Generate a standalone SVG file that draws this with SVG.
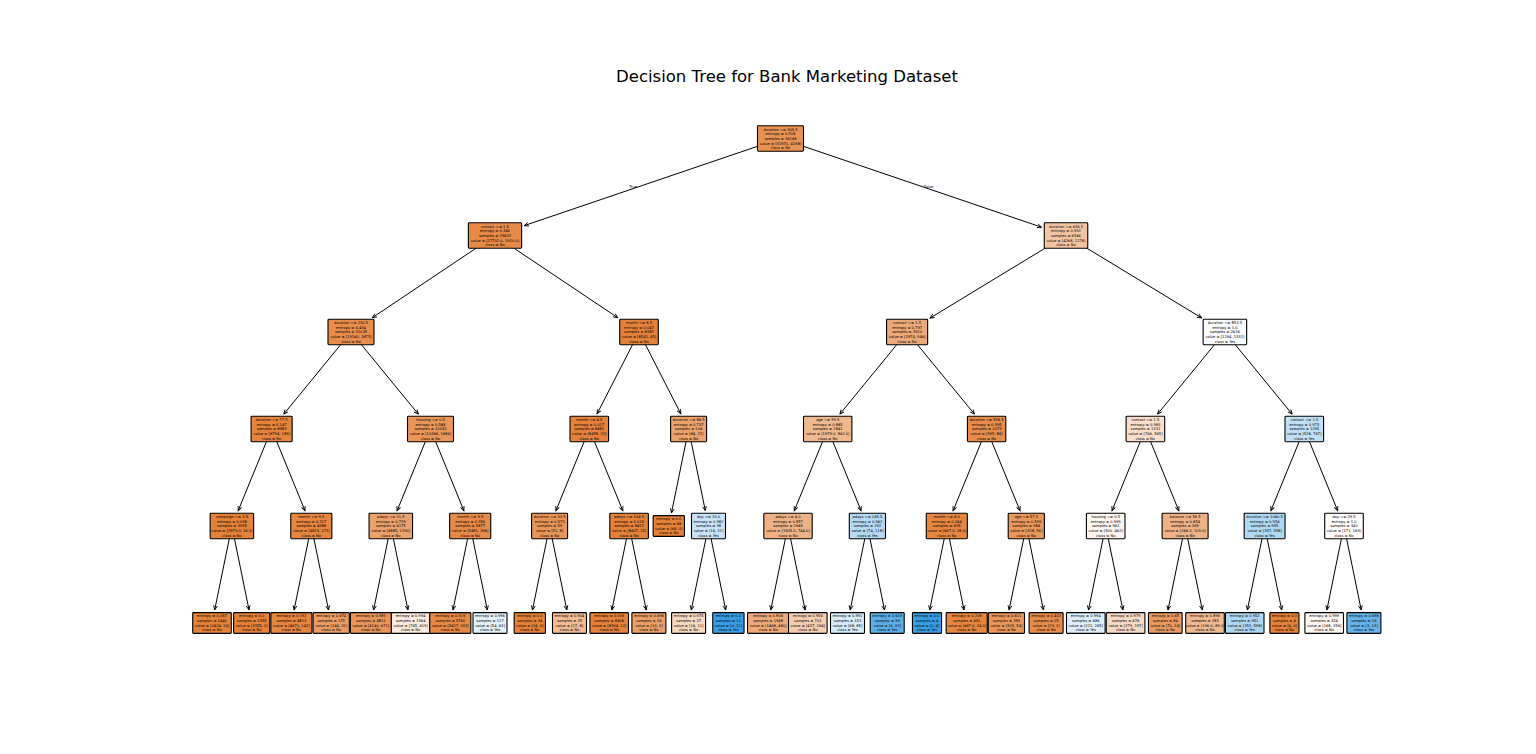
<svg xmlns="http://www.w3.org/2000/svg" width="1536" height="754" viewBox="0 0 1536 754">
<style>
.t{font-family:"DejaVu Sans","Liberation Sans",sans-serif;font-size:3.65px;text-anchor:middle;fill:#000;text-rendering:geometricPrecision}
.b{stroke:#000;stroke-width:1.1}
.e{stroke:#000;stroke-width:1;fill:none;marker-end:url(#ah)}
.title{font-family:"DejaVu Sans","Liberation Sans",sans-serif;font-size:16.5px;text-anchor:middle;fill:#000}
.lbl{font-family:"DejaVu Sans","Liberation Sans",sans-serif;font-size:3.65px;fill:#000;text-rendering:geometricPrecision}
</style>
<defs>
<marker id="ah" markerUnits="userSpaceOnUse" markerWidth="7" markerHeight="6" viewBox="0 0 7 6" refX="5.5" refY="3" orient="auto"><path d="M1.2,1.1 L5.5,3 L1.2,4.9" fill="none" stroke="#000" stroke-width="0.9"/></marker>
</defs>
<rect width="1536" height="754" fill="#fff"/>
<text class="title" x="787" y="81.5">Decision Tree for Bank Marketing Dataset</text>
<g id="edges">
<path class="e" d="M780.5 138.5 L524.3 225.6"/>
<path class="e" d="M780.5 138.5 L1041.6 227.2"/>
<path class="e" d="M495 235.5 L372.3 317.7"/>
<path class="e" d="M495 235.5 L617.7 317.7"/>
<path class="e" d="M1066 235.5 L930 318.1"/>
<path class="e" d="M1066 235.5 L1201.6 317.9"/>
<path class="e" d="M351 332 L283.8 414.1"/>
<path class="e" d="M351 332 L418.3 414.1"/>
<path class="e" d="M639 332 L597.1 413.8"/>
<path class="e" d="M639 332 L680.8 413.8"/>
<path class="e" d="M907.1 332 L839.9 414.1"/>
<path class="e" d="M907.1 332 L974.4 414.1"/>
<path class="e" d="M1224.9 332 L1157.6 414.1"/>
<path class="e" d="M1224.9 332 L1292.1 414.1"/>
<path class="e" d="M271.6 429 L238.2 510.7"/>
<path class="e" d="M271.6 429 L305 510.7"/>
<path class="e" d="M430.5 429 L397.1 510.7"/>
<path class="e" d="M430.5 429 L463.9 510.7"/>
<path class="e" d="M589.3 429 L555.9 510.7"/>
<path class="e" d="M589.3 429 L622.8 510.7"/>
<path class="e" d="M688.6 429 L671.5 512.9"/>
<path class="e" d="M688.6 429 L705.3 510.6"/>
<path class="e" d="M827.7 429 L794.3 510.7"/>
<path class="e" d="M827.7 429 L861.1 510.7"/>
<path class="e" d="M986.6 429 L953.1 510.7"/>
<path class="e" d="M986.6 429 L1020 510.7"/>
<path class="e" d="M1145.4 429 L1112 510.7"/>
<path class="e" d="M1145.4 429 L1178.8 510.7"/>
<path class="e" d="M1304.3 429 L1270.9 510.7"/>
<path class="e" d="M1304.3 429 L1337.7 510.7"/>
<path class="e" d="M231.9 526 L214.7 609.9"/>
<path class="e" d="M231.9 526 L249 609.9"/>
<path class="e" d="M311.3 526 L294.1 609.9"/>
<path class="e" d="M311.3 526 L328.5 609.9"/>
<path class="e" d="M390.8 526 L373.6 609.9"/>
<path class="e" d="M390.8 526 L407.9 609.9"/>
<path class="e" d="M470.2 526 L453 609.9"/>
<path class="e" d="M470.2 526 L487.3 609.9"/>
<path class="e" d="M549.6 526 L532.5 609.9"/>
<path class="e" d="M549.6 526 L566.8 609.9"/>
<path class="e" d="M629.1 526 L611.9 609.9"/>
<path class="e" d="M629.1 526 L646.2 609.9"/>
<path class="e" d="M708.5 526 L691.3 609.9"/>
<path class="e" d="M708.5 526 L725.7 609.9"/>
<path class="e" d="M788 526 L770.8 609.9"/>
<path class="e" d="M788 526 L805.1 609.9"/>
<path class="e" d="M867.4 526 L850.2 609.9"/>
<path class="e" d="M867.4 526 L884.5 609.9"/>
<path class="e" d="M946.8 526 L929.7 609.9"/>
<path class="e" d="M946.8 526 L964 609.9"/>
<path class="e" d="M1026.3 526 L1009.1 609.9"/>
<path class="e" d="M1026.3 526 L1043.4 609.9"/>
<path class="e" d="M1105.7 526 L1088.5 609.9"/>
<path class="e" d="M1105.7 526 L1122.9 609.9"/>
<path class="e" d="M1185.1 526 L1168 609.9"/>
<path class="e" d="M1185.1 526 L1202.3 609.9"/>
<path class="e" d="M1264.6 526 L1247.4 609.9"/>
<path class="e" d="M1264.6 526 L1281.7 609.9"/>
<path class="e" d="M1344 526 L1326.9 609.9"/>
<path class="e" d="M1344 526 L1361.2 609.9"/>
<text class="lbl" x="637" y="188.3" text-anchor="end">True</text>
<text class="lbl" x="924" y="188.3">False</text>
</g>
<g id="n0"><rect class="b" x="757.5" y="125.8" width="46" height="25.4" rx="0.9" fill="#e89253"/><text class="t" x="780.5" y="130.66"><tspan x="780.5">duration &lt;= 309.5</tspan><tspan x="780.5" dy="4.62">entropy = 0.518</tspan><tspan x="780.5" dy="4.62">samples = 36168</tspan><tspan x="780.5" dy="4.62">value = [31970, 4198]</tspan><tspan x="780.5" dy="4.62">class = No</tspan></text></g>
<g id="n1"><rect class="b" x="468.35" y="222.8" width="53.3" height="25.4" rx="0.9" fill="#e78a47"/><text class="t" x="495" y="227.66"><tspan x="495">contact &lt;= 1.5</tspan><tspan x="495" dy="4.62">entropy = 0.346</tspan><tspan x="495" dy="4.62">samples = 29622</tspan><tspan x="495" dy="4.62">value = [27702.0, 1920.0]</tspan><tspan x="495" dy="4.62">class = No</tspan></text></g>
<g id="n2"><rect class="b" x="1044.25" y="222.8" width="43.5" height="25.4" rx="0.9" fill="#f3c4a3"/><text class="t" x="1066" y="227.66"><tspan x="1066">duration &lt;= 636.5</tspan><tspan x="1066" dy="4.62">entropy = 0.932</tspan><tspan x="1066" dy="4.62">samples = 6546</tspan><tspan x="1066" dy="4.62">value = [4268, 2278]</tspan><tspan x="1066" dy="4.62">class = No</tspan></text></g>
<g id="k1"><rect class="b" x="328" y="319.3" width="46" height="25.4" rx="0.9" fill="#e88d4c"/><text class="t" x="351" y="324.16"><tspan x="351">duration &lt;= 130.5</tspan><tspan x="351" dy="4.62">entropy = 0.434</tspan><tspan x="351" dy="4.62">samples = 21035</tspan><tspan x="351" dy="4.62">value = [19160, 1875]</tspan><tspan x="351" dy="4.62">class = No</tspan></text></g>
<g id="k2"><rect class="b" x="619.7" y="319.3" width="38.6" height="25.4" rx="0.9" fill="#e5823a"/><text class="t" x="639" y="324.16"><tspan x="639">month &lt;= 8.5</tspan><tspan x="639" dy="4.62">entropy = 0.047</tspan><tspan x="639" dy="4.62">samples = 8587</tspan><tspan x="639" dy="4.62">value = [8542, 45]</tspan><tspan x="639" dy="4.62">class = No</tspan></text></g>
<g id="k3"><rect class="b" x="886.55" y="319.3" width="41.1" height="25.4" rx="0.9" fill="#eda978"/><text class="t" x="907.1" y="324.16"><tspan x="907.1">contact &lt;= 1.5</tspan><tspan x="907.1" dy="4.62">entropy = 0.797</tspan><tspan x="907.1" dy="4.62">samples = 3920</tspan><tspan x="907.1" dy="4.62">value = [2974, 946]</tspan><tspan x="907.1" dy="4.62">class = No</tspan></text></g>
<g id="k4"><rect class="b" x="1203.15" y="319.3" width="43.5" height="25.4" rx="0.9" fill="#f9fcfe"/><text class="t" x="1224.9" y="324.16"><tspan x="1224.9">duration &lt;= 853.5</tspan><tspan x="1224.9" dy="4.62">entropy = 1.0</tspan><tspan x="1224.9" dy="4.62">samples = 2626</tspan><tspan x="1224.9" dy="4.62">value = [1294, 1332]</tspan><tspan x="1224.9" dy="4.62">class = Yes</tspan></text></g>
<g id="m1"><rect class="b" x="251.05" y="416.3" width="41.1" height="25.4" rx="0.9" fill="#e6843d"/><text class="t" x="271.6" y="421.16"><tspan x="271.6">duration &lt;= 77.5</tspan><tspan x="271.6" dy="4.62">entropy = 0.147</tspan><tspan x="271.6" dy="4.62">samples = 8983</tspan><tspan x="271.6" dy="4.62">value = [8794, 189]</tspan><tspan x="271.6" dy="4.62">class = No</tspan></text></g>
<g id="m2"><rect class="b" x="407.5" y="416.3" width="46" height="25.4" rx="0.9" fill="#e99659"/><text class="t" x="430.5" y="421.16"><tspan x="430.5">housing &lt;= 0.5</tspan><tspan x="430.5" dy="4.62">entropy = 0.584</tspan><tspan x="430.5" dy="4.62">samples = 12052</tspan><tspan x="430.5" dy="4.62">value = [10366, 1686]</tspan><tspan x="430.5" dy="4.62">class = No</tspan></text></g>
<g id="m3"><rect class="b" x="570" y="416.3" width="38.6" height="25.4" rx="0.9" fill="#e5813a"/><text class="t" x="589.3" y="421.16"><tspan x="589.3">month &lt;= 4.5</tspan><tspan x="589.3" dy="4.62">entropy = 0.027</tspan><tspan x="589.3" dy="4.62">samples = 8481</tspan><tspan x="589.3" dy="4.62">value = [8458, 23]</tspan><tspan x="589.3" dy="4.62">class = No</tspan></text></g>
<g id="m4"><rect class="b" x="670.6" y="416.3" width="36" height="25.4" rx="0.9" fill="#eca26d"/><text class="t" x="688.6" y="421.16"><tspan x="688.6">duration &lt;= 84.5</tspan><tspan x="688.6" dy="4.62">entropy = 0.737</tspan><tspan x="688.6" dy="4.62">samples = 106</tspan><tspan x="688.6" dy="4.62">value = [84, 22]</tspan><tspan x="688.6" dy="4.62">class = No</tspan></text></g>
<g id="m5"><rect class="b" x="803.5" y="416.3" width="48.4" height="25.4" rx="0.9" fill="#f0b88f"/><text class="t" x="827.7" y="421.16"><tspan x="827.7">age &lt;= 59.5</tspan><tspan x="827.7" dy="4.62">entropy = 0.885</tspan><tspan x="827.7" dy="4.62">samples = 2841</tspan><tspan x="827.7" dy="4.62">value = [1979.0, 862.0]</tspan><tspan x="827.7" dy="4.62">class = No</tspan></text></g>
<g id="m6"><rect class="b" x="967.4" y="416.3" width="38.4" height="25.4" rx="0.9" fill="#e78c4a"/><text class="t" x="986.6" y="421.16"><tspan x="986.6">duration &lt;= 526.5</tspan><tspan x="986.6" dy="4.62">entropy = 0.395</tspan><tspan x="986.6" dy="4.62">samples = 1079</tspan><tspan x="986.6" dy="4.62">value = [995, 84]</tspan><tspan x="986.6" dy="4.62">class = No</tspan></text></g>
<g id="m7"><rect class="b" x="1126.1" y="416.3" width="38.6" height="25.4" rx="0.9" fill="#f8decb"/><text class="t" x="1145.4" y="421.16"><tspan x="1145.4">contact &lt;= 1.5</tspan><tspan x="1145.4" dy="4.62">entropy = 0.983</tspan><tspan x="1145.4" dy="4.62">samples = 1331</tspan><tspan x="1145.4" dy="4.62">value = [766, 565]</tspan><tspan x="1145.4" dy="4.62">class = No</tspan></text></g>
<g id="m8"><rect class="b" x="1285" y="416.3" width="38.6" height="25.4" rx="0.9" fill="#c1e0f7"/><text class="t" x="1304.3" y="421.16"><tspan x="1304.3">contact &lt;= 1.5</tspan><tspan x="1304.3" dy="4.62">entropy = 0.975</tspan><tspan x="1304.3" dy="4.62">samples = 1295</tspan><tspan x="1304.3" dy="4.62">value = [528, 767]</tspan><tspan x="1304.3" dy="4.62">class = Yes</tspan></text></g>
<g id="p1"><rect class="b" x="210.15" y="513.3" width="43.5" height="25.4" rx="0.9" fill="#e5823a"/><text class="t" x="231.9" y="518.16"><tspan x="231.9">campaign &lt;= 3.5</tspan><tspan x="231.9" dy="4.62">entropy = 0.038</tspan><tspan x="231.9" dy="4.62">samples = 3995</tspan><tspan x="231.9" dy="4.62">value = [3979.0, 16.0]</tspan><tspan x="231.9" dy="4.62">class = No</tspan></text></g>
<g id="p2"><rect class="b" x="290.75" y="513.3" width="41.1" height="25.4" rx="0.9" fill="#e68640"/><text class="t" x="311.3" y="518.16"><tspan x="311.3">month &lt;= 9.5</tspan><tspan x="311.3" dy="4.62">entropy = 0.217</tspan><tspan x="311.3" dy="4.62">samples = 4988</tspan><tspan x="311.3" dy="4.62">value = [4815, 173]</tspan><tspan x="311.3" dy="4.62">class = No</tspan></text></g>
<g id="p3"><rect class="b" x="369.05" y="513.3" width="43.5" height="25.4" rx="0.9" fill="#eca26d"/><text class="t" x="390.8" y="518.16"><tspan x="390.8">pdays &lt;= 21.5</tspan><tspan x="390.8" dy="4.62">entropy = 0.739</tspan><tspan x="390.8" dy="4.62">samples = 6175</tspan><tspan x="390.8" dy="4.62">value = [4885, 1290]</tspan><tspan x="390.8" dy="4.62">class = No</tspan></text></g>
<g id="p4"><rect class="b" x="449.65" y="513.3" width="41.1" height="25.4" rx="0.9" fill="#e78a47"/><text class="t" x="470.2" y="518.16"><tspan x="470.2">month &lt;= 9.5</tspan><tspan x="470.2" dy="4.62">entropy = 0.356</tspan><tspan x="470.2" dy="4.62">samples = 5877</tspan><tspan x="470.2" dy="4.62">value = [5481, 396]</tspan><tspan x="470.2" dy="4.62">class = No</tspan></text></g>
<g id="p5"><rect class="b" x="531.6" y="513.3" width="36" height="25.4" rx="0.9" fill="#e99558"/><text class="t" x="549.6" y="518.16"><tspan x="549.6">duration &lt;= 33.5</tspan><tspan x="549.6" dy="4.62">entropy = 0.573</tspan><tspan x="549.6" dy="4.62">samples = 59</tspan><tspan x="549.6" dy="4.62">value = [51, 8]</tspan><tspan x="549.6" dy="4.62">class = No</tspan></text></g>
<g id="p6"><rect class="b" x="609.8" y="513.3" width="38.6" height="25.4" rx="0.9" fill="#e58139"/><text class="t" x="629.1" y="518.16"><tspan x="629.1">pdays &lt;= 104.5</tspan><tspan x="629.1" dy="4.62">entropy = 0.019</tspan><tspan x="629.1" dy="4.62">samples = 8422</tspan><tspan x="629.1" dy="4.62">value = [8407, 15]</tspan><tspan x="629.1" dy="4.62">class = No</tspan></text></g>
<g id="p7"><rect class="b" x="653.15" y="515.6" width="31.3" height="20.8" rx="0.9" fill="#e58139"/><text class="t" x="668.8" y="520.47"><tspan x="668.8">entropy = 0.0</tspan><tspan x="668.8" dy="4.62">samples = 68</tspan><tspan x="668.8" dy="4.62">value = [68, 0]</tspan><tspan x="668.8" dy="4.62">class = No</tspan></text></g>
<g id="p8"><rect class="b" x="691.5" y="513.3" width="34" height="25.4" rx="0.9" fill="#c9e4f8"/><text class="t" x="708.5" y="518.16"><tspan x="708.5">day &lt;= 19.0</tspan><tspan x="708.5" dy="4.62">entropy = 0.982</tspan><tspan x="708.5" dy="4.62">samples = 38</tspan><tspan x="708.5" dy="4.62">value = [16, 22]</tspan><tspan x="708.5" dy="4.62">class = Yes</tspan></text></g>
<g id="p9"><rect class="b" x="763.8" y="513.3" width="48.4" height="25.4" rx="0.9" fill="#efb286"/><text class="t" x="788" y="518.16"><tspan x="788">pdays &lt;= 4.0</tspan><tspan x="788" dy="4.62">entropy = 0.857</tspan><tspan x="788" dy="4.62">samples = 2649</tspan><tspan x="788" dy="4.62">value = [1905.0, 744.0]</tspan><tspan x="788" dy="4.62">class = No</tspan></text></g>
<g id="p10"><rect class="b" x="849.3" y="513.3" width="36.2" height="25.4" rx="0.9" fill="#b5daf5"/><text class="t" x="867.4" y="518.16"><tspan x="867.4">pdays &lt;= 165.5</tspan><tspan x="867.4" dy="4.62">entropy = 0.962</tspan><tspan x="867.4" dy="4.62">samples = 192</tspan><tspan x="867.4" dy="4.62">value = [74, 118]</tspan><tspan x="867.4" dy="4.62">class = Yes</tspan></text></g>
<g id="p11"><rect class="b" x="926.25" y="513.3" width="41.1" height="25.4" rx="0.9" fill="#e68641"/><text class="t" x="946.8" y="518.16"><tspan x="946.8">month &lt;= 4.0</tspan><tspan x="946.8" dy="4.62">entropy = 0.244</tspan><tspan x="946.8" dy="4.62">samples = 695</tspan><tspan x="946.8" dy="4.62">value = [667.0, 28.0]</tspan><tspan x="946.8" dy="4.62">class = No</tspan></text></g>
<g id="p12"><rect class="b" x="1008.2" y="513.3" width="36.2" height="25.4" rx="0.9" fill="#e9975b"/><text class="t" x="1026.3" y="518.16"><tspan x="1026.3">age &lt;= 57.5</tspan><tspan x="1026.3" dy="4.62">entropy = 0.599</tspan><tspan x="1026.3" dy="4.62">samples = 384</tspan><tspan x="1026.3" dy="4.62">value = [328, 56]</tspan><tspan x="1026.3" dy="4.62">class = No</tspan></text></g>
<g id="p13"><rect class="b" x="1086.4" y="513.3" width="38.6" height="25.4" rx="0.9" fill="#fdf5f0"/><text class="t" x="1105.7" y="518.16"><tspan x="1105.7">housing &lt;= 0.5</tspan><tspan x="1105.7" dy="4.62">entropy = 0.999</tspan><tspan x="1105.7" dy="4.62">samples = 962</tspan><tspan x="1105.7" dy="4.62">value = [500, 462]</tspan><tspan x="1105.7" dy="4.62">class = No</tspan></text></g>
<g id="p14"><rect class="b" x="1162.1" y="513.3" width="46" height="25.4" rx="0.9" fill="#efb286"/><text class="t" x="1185.1" y="518.16"><tspan x="1185.1">balance &lt;= 56.5</tspan><tspan x="1185.1" dy="4.62">entropy = 0.854</tspan><tspan x="1185.1" dy="4.62">samples = 369</tspan><tspan x="1185.1" dy="4.62">value = [266.0, 103.0]</tspan><tspan x="1185.1" dy="4.62">class = No</tspan></text></g>
<g id="p15"><rect class="b" x="1244.15" y="513.3" width="40.9" height="25.4" rx="0.9" fill="#afd8f5"/><text class="t" x="1264.6" y="518.16"><tspan x="1264.6">duration &lt;= 1060.5</tspan><tspan x="1264.6" dy="4.62">entropy = 0.954</tspan><tspan x="1264.6" dy="4.62">samples = 955</tspan><tspan x="1264.6" dy="4.62">value = [357, 598]</tspan><tspan x="1264.6" dy="4.62">class = Yes</tspan></text></g>
<g id="p16"><rect class="b" x="1324.7" y="513.3" width="38.6" height="25.4" rx="0.9" fill="#fffefd"/><text class="t" x="1344" y="518.16"><tspan x="1344">day &lt;= 29.5</tspan><tspan x="1344" dy="4.62">entropy = 1.0</tspan><tspan x="1344" dy="4.62">samples = 340</tspan><tspan x="1344" dy="4.62">value = [171, 169]</tspan><tspan x="1344" dy="4.62">class = No</tspan></text></g>
<g id="l1"><rect class="b" x="192.7" y="612.6" width="38.6" height="20.8" rx="0.9" fill="#e5823a"/><text class="t" x="212" y="617.47"><tspan x="212">entropy = 0.057</tspan><tspan x="212" dy="4.62">samples = 2440</tspan><tspan x="212" dy="4.62">value = [2424, 16]</tspan><tspan x="212" dy="4.62">class = No</tspan></text></g>
<g id="l2"><rect class="b" x="233.6" y="612.6" width="36.2" height="20.8" rx="0.9" fill="#e58139"/><text class="t" x="251.7" y="617.47"><tspan x="251.7">entropy = 0.0</tspan><tspan x="251.7" dy="4.62">samples = 1555</tspan><tspan x="251.7" dy="4.62">value = [1555, 0]</tspan><tspan x="251.7" dy="4.62">class = No</tspan></text></g>
<g id="l3"><rect class="b" x="270.85" y="612.6" width="41.1" height="20.8" rx="0.9" fill="#e6853f"/><text class="t" x="291.4" y="617.47"><tspan x="291.4">entropy = 0.192</tspan><tspan x="291.4" dy="4.62">samples = 4813</tspan><tspan x="291.4" dy="4.62">value = [4671, 142]</tspan><tspan x="291.4" dy="4.62">class = No</tspan></text></g>
<g id="l4"><rect class="b" x="313.1" y="612.6" width="36.2" height="20.8" rx="0.9" fill="#eb9c64"/><text class="t" x="331.2" y="617.47"><tspan x="331.2">entropy = 0.674</tspan><tspan x="331.2" dy="4.62">samples = 175</tspan><tspan x="331.2" dy="4.62">value = [144, 31]</tspan><tspan x="331.2" dy="4.62">class = No</tspan></text></g>
<g id="l5"><rect class="b" x="350.35" y="612.6" width="41.1" height="20.8" rx="0.9" fill="#e99559"/><text class="t" x="370.9" y="617.47"><tspan x="370.9">entropy = 0.583</tspan><tspan x="370.9" dy="4.62">samples = 4811</tspan><tspan x="370.9" dy="4.62">value = [4140, 671]</tspan><tspan x="370.9" dy="4.62">class = No</tspan></text></g>
<g id="l6"><rect class="b" x="391.3" y="612.6" width="38.6" height="20.8" rx="0.9" fill="#fbeade"/><text class="t" x="410.6" y="617.47"><tspan x="410.6">entropy = 0.994</tspan><tspan x="410.6" dy="4.62">samples = 1364</tspan><tspan x="410.6" dy="4.62">value = [745, 619]</tspan><tspan x="410.6" dy="4.62">class = No</tspan></text></g>
<g id="l7"><rect class="b" x="429.75" y="612.6" width="41.1" height="20.8" rx="0.9" fill="#e78945"/><text class="t" x="450.3" y="617.47"><tspan x="450.3">entropy = 0.319</tspan><tspan x="450.3" dy="4.62">samples = 5760</tspan><tspan x="450.3" dy="4.62">value = [5427, 333]</tspan><tspan x="450.3" dy="4.62">class = No</tspan></text></g>
<g id="l8"><rect class="b" x="473" y="612.6" width="34" height="20.8" rx="0.9" fill="#e3f1fb"/><text class="t" x="490" y="617.47"><tspan x="490">entropy = 0.996</tspan><tspan x="490" dy="4.62">samples = 117</tspan><tspan x="490" dy="4.62">value = [54, 63]</tspan><tspan x="490" dy="4.62">class = Yes</tspan></text></g>
<g id="l9"><rect class="b" x="514.15" y="612.6" width="31.3" height="20.8" rx="0.9" fill="#e58139"/><text class="t" x="529.8" y="617.47"><tspan x="529.8">entropy = 0.0</tspan><tspan x="529.8" dy="4.62">samples = 34</tspan><tspan x="529.8" dy="4.62">value = [34, 0]</tspan><tspan x="529.8" dy="4.62">class = No</tspan></text></g>
<g id="l10"><rect class="b" x="552.5" y="612.6" width="34" height="20.8" rx="0.9" fill="#f1bc96"/><text class="t" x="569.5" y="617.47"><tspan x="569.5">entropy = 0.904</tspan><tspan x="569.5" dy="4.62">samples = 25</tspan><tspan x="569.5" dy="4.62">value = [17, 8]</tspan><tspan x="569.5" dy="4.62">class = No</tspan></text></g>
<g id="l11"><rect class="b" x="589.9" y="612.6" width="38.6" height="20.8" rx="0.9" fill="#e58139"/><text class="t" x="609.2" y="617.47"><tspan x="609.2">entropy = 0.016</tspan><tspan x="609.2" dy="4.62">samples = 8406</tspan><tspan x="609.2" dy="4.62">value = [8394, 12]</tspan><tspan x="609.2" dy="4.62">class = No</tspan></text></g>
<g id="l12"><rect class="b" x="631.9" y="612.6" width="34" height="20.8" rx="0.9" fill="#eb9e67"/><text class="t" x="648.9" y="617.47"><tspan x="648.9">entropy = 0.696</tspan><tspan x="648.9" dy="4.62">samples = 16</tspan><tspan x="648.9" dy="4.62">value = [13, 3]</tspan><tspan x="648.9" dy="4.62">class = No</tspan></text></g>
<g id="l13"><rect class="b" x="671.6" y="612.6" width="34" height="20.8" rx="0.9" fill="#f7d8c1"/><text class="t" x="688.6" y="617.47"><tspan x="688.6">entropy = 0.975</tspan><tspan x="688.6" dy="4.62">samples = 27</tspan><tspan x="688.6" dy="4.62">value = [16, 11]</tspan><tspan x="688.6" dy="4.62">class = No</tspan></text></g>
<g id="l14"><rect class="b" x="712.75" y="612.6" width="31.3" height="20.8" rx="0.9" fill="#399de5"/><text class="t" x="728.4" y="617.47"><tspan x="728.4">entropy = 0.0</tspan><tspan x="728.4" dy="4.62">samples = 11</tspan><tspan x="728.4" dy="4.62">value = [0, 11]</tspan><tspan x="728.4" dy="4.62">class = Yes</tspan></text></g>
<g id="l15"><rect class="b" x="747.55" y="612.6" width="41.1" height="20.8" rx="0.9" fill="#eeaa7a"/><text class="t" x="768.1" y="617.47"><tspan x="768.1">entropy = 0.806</tspan><tspan x="768.1" dy="4.62">samples = 1948</tspan><tspan x="768.1" dy="4.62">value = [1468, 480]</tspan><tspan x="768.1" dy="4.62">class = No</tspan></text></g>
<g id="l16"><rect class="b" x="788.5" y="612.6" width="38.6" height="20.8" rx="0.9" fill="#f5cdb1"/><text class="t" x="807.8" y="617.47"><tspan x="807.8">entropy = 0.956</tspan><tspan x="807.8" dy="4.62">samples = 701</tspan><tspan x="807.8" dy="4.62">value = [437, 264]</tspan><tspan x="807.8" dy="4.62">class = No</tspan></text></g>
<g id="l17"><rect class="b" x="830.5" y="612.6" width="34" height="20.8" rx="0.9" fill="#d7ebfa"/><text class="t" x="847.5" y="617.47"><tspan x="847.5">entropy = 0.991</tspan><tspan x="847.5" dy="4.62">samples = 153</tspan><tspan x="847.5" dy="4.62">value = [68, 85]</tspan><tspan x="847.5" dy="4.62">class = Yes</tspan></text></g>
<g id="l18"><rect class="b" x="870.2" y="612.6" width="34" height="20.8" rx="0.9" fill="#5dafea"/><text class="t" x="887.2" y="617.47"><tspan x="887.2">entropy = 0.619</tspan><tspan x="887.2" dy="4.62">samples = 39</tspan><tspan x="887.2" dy="4.62">value = [6, 33]</tspan><tspan x="887.2" dy="4.62">class = Yes</tspan></text></g>
<g id="l19"><rect class="b" x="912.45" y="612.6" width="29.1" height="20.8" rx="0.9" fill="#399de5"/><text class="t" x="927" y="617.47"><tspan x="927">entropy = 0.0</tspan><tspan x="927" dy="4.62">samples = 4</tspan><tspan x="927" dy="4.62">value = [0, 4]</tspan><tspan x="927" dy="4.62">class = Yes</tspan></text></g>
<g id="l20"><rect class="b" x="946.15" y="612.6" width="41.1" height="20.8" rx="0.9" fill="#e68640"/><text class="t" x="966.7" y="617.47"><tspan x="966.7">entropy = 0.218</tspan><tspan x="966.7" dy="4.62">samples = 691</tspan><tspan x="966.7" dy="4.62">value = [667.0, 24.0]</tspan><tspan x="966.7" dy="4.62">class = No</tspan></text></g>
<g id="l21"><rect class="b" x="988.3" y="612.6" width="36.2" height="20.8" rx="0.9" fill="#ea975c"/><text class="t" x="1006.4" y="617.47"><tspan x="1006.4">entropy = 0.611</tspan><tspan x="1006.4" dy="4.62">samples = 359</tspan><tspan x="1006.4" dy="4.62">value = [305, 54]</tspan><tspan x="1006.4" dy="4.62">class = No</tspan></text></g>
<g id="l22"><rect class="b" x="1029.1" y="612.6" width="34" height="20.8" rx="0.9" fill="#e78c4a"/><text class="t" x="1046.1" y="617.47"><tspan x="1046.1">entropy = 0.402</tspan><tspan x="1046.1" dy="4.62">samples = 25</tspan><tspan x="1046.1" dy="4.62">value = [23, 2]</tspan><tspan x="1046.1" dy="4.62">class = No</tspan></text></g>
<g id="l23"><rect class="b" x="1066.5" y="612.6" width="38.6" height="20.8" rx="0.9" fill="#deeffb"/><text class="t" x="1085.8" y="617.47"><tspan x="1085.8">entropy = 0.994</tspan><tspan x="1085.8" dy="4.62">samples = 486</tspan><tspan x="1085.8" dy="4.62">value = [221, 265]</tspan><tspan x="1085.8" dy="4.62">class = Yes</tspan></text></g>
<g id="l24"><rect class="b" x="1106.3" y="612.6" width="38.6" height="20.8" rx="0.9" fill="#f7dac5"/><text class="t" x="1125.6" y="617.47"><tspan x="1125.6">entropy = 0.979</tspan><tspan x="1125.6" dy="4.62">samples = 476</tspan><tspan x="1125.6" dy="4.62">value = [279, 197]</tspan><tspan x="1125.6" dy="4.62">class = No</tspan></text></g>
<g id="l25"><rect class="b" x="1148.45" y="612.6" width="33.7" height="20.8" rx="0.9" fill="#ea9a61"/><text class="t" x="1165.3" y="617.47"><tspan x="1165.3">entropy = 0.65</tspan><tspan x="1165.3" dy="4.62">samples = 84</tspan><tspan x="1165.3" dy="4.62">value = [70, 14]</tspan><tspan x="1165.3" dy="4.62">class = No</tspan></text></g>
<g id="l26"><rect class="b" x="1185.7" y="612.6" width="38.6" height="20.8" rx="0.9" fill="#f1ba93"/><text class="t" x="1205" y="617.47"><tspan x="1205">entropy = 0.896</tspan><tspan x="1205" dy="4.62">samples = 285</tspan><tspan x="1205" dy="4.62">value = [196.0, 89.0]</tspan><tspan x="1205" dy="4.62">class = No</tspan></text></g>
<g id="l27"><rect class="b" x="1225.4" y="612.6" width="38.6" height="20.8" rx="0.9" fill="#aed7f4"/><text class="t" x="1244.7" y="617.47"><tspan x="1244.7">entropy = 0.952</tspan><tspan x="1244.7" dy="4.62">samples = 951</tspan><tspan x="1244.7" dy="4.62">value = [353, 598]</tspan><tspan x="1244.7" dy="4.62">class = Yes</tspan></text></g>
<g id="l28"><rect class="b" x="1269.85" y="612.6" width="29.1" height="20.8" rx="0.9" fill="#e58139"/><text class="t" x="1284.4" y="617.47"><tspan x="1284.4">entropy = 0.0</tspan><tspan x="1284.4" dy="4.62">samples = 4</tspan><tspan x="1284.4" dy="4.62">value = [4, 0]</tspan><tspan x="1284.4" dy="4.62">class = No</tspan></text></g>
<g id="l29"><rect class="b" x="1304.9" y="612.6" width="38.6" height="20.8" rx="0.9" fill="#fdf6f1"/><text class="t" x="1324.2" y="617.47"><tspan x="1324.2">entropy = 0.999</tspan><tspan x="1324.2" dy="4.62">samples = 324</tspan><tspan x="1324.2" dy="4.62">value = [168, 156]</tspan><tspan x="1324.2" dy="4.62">class = No</tspan></text></g>
<g id="l30"><rect class="b" x="1346.9" y="612.6" width="34" height="20.8" rx="0.9" fill="#67b4eb"/><text class="t" x="1363.9" y="617.47"><tspan x="1363.9">entropy = 0.696</tspan><tspan x="1363.9" dy="4.62">samples = 16</tspan><tspan x="1363.9" dy="4.62">value = [3, 13]</tspan><tspan x="1363.9" dy="4.62">class = Yes</tspan></text></g>
</svg>
